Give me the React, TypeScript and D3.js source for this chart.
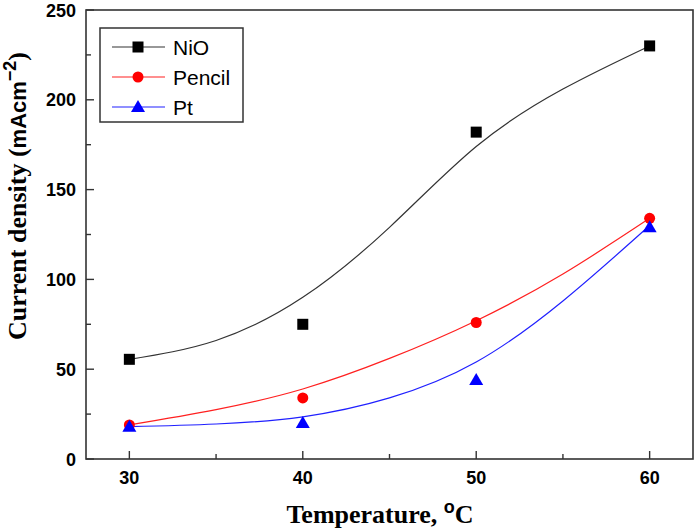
import * as d3 from 'd3';
import { useEffect, useRef } from 'react';

// measured points
const temps = [30, 40, 50, 60];
const nio = [55.5, 75, 182, 230];
const pencil = [19, 34, 76, 134];
const pt = [18, 20, 44, 129];

// fitted curves, sampled every 5 degrees
const fitTemps = [30, 35, 40, 45, 50, 55, 60];
const nioFit = [55.5, 66, 90, 129, 174, 206, 230];
const pencilFit = [19, 27.5, 39, 56, 77, 103, 134];
const ptFit = [18, 19.5, 23.5, 34, 54, 88, 130];

const xTicks = [30, 40, 50, 60];
const xMinor = [35, 45, 55];
const yTicks = [0, 50, 100, 150, 200, 250];
const yMinor = [25, 75, 125, 175, 225];

type Series = {
  name: string;
  color: string;
  lineColor: string;
  shape: 'square' | 'circle' | 'triangle';
  values: number[];
  fit: number[];
};

const series: Series[] = [
  { name: 'NiO', color: '#000', lineColor: '#333', shape: 'square', values: nio, fit: nioFit },
  { name: 'Pencil', color: '#ff0000', lineColor: '#ff2020', shape: 'circle', values: pencil, fit: pencilFit },
  { name: 'Pt', color: '#0000ff', lineColor: '#2020ff', shape: 'triangle', values: pt, fit: ptFit },
];

const width = 694;
const height = 529;
const left = 86;
const right = 693;
const top = 10;
const bottom = 459;

const sans = 'Liberation Sans, Arial, sans-serif';
const serif = 'Liberation Serif, Times New Roman, serif';

function drawMarker(g: d3.Selection<SVGGElement, unknown, null, undefined>, shape: string, color: string, cx: number, cy: number) {
  if (shape === 'square') {
    g.append('rect').attr('x', cx - 5.5).attr('y', cy - 5.5).attr('width', 11).attr('height', 11).attr('fill', color);
  } else if (shape === 'circle') {
    g.append('circle').attr('cx', cx).attr('cy', cy).attr('r', 5.5).attr('fill', color);
  } else {
    g.append('path')
      .attr('d', `M${cx},${cy - 7}L${cx + 7},${cy + 5}L${cx - 7},${cy + 5}Z`)
      .attr('fill', color);
  }
}

export default function App() {
  const ref = useRef<SVGSVGElement>(null);

  useEffect(() => {
    const svg = d3.select(ref.current);
    svg.selectAll('*').remove();

    const x = d3.scaleLinear().domain([27.5, 62.5]).range([left, right]);
    const y = d3.scaleLinear().domain([0, 250]).range([bottom, top]);

    // fit lines
    const line = d3
      .line<number>()
      .x((_, i) => x(fitTemps[i]))
      .y((d) => y(d))
      .curve(d3.curveNatural);

    series.forEach((s) => {
      svg
        .append('path')
        .attr('d', line(s.fit))
        .attr('fill', 'none')
        .attr('stroke', s.lineColor)
        .attr('stroke-width', 1.2);
    });

    // markers
    series.forEach((s) => {
      const g = svg.append('g');
      s.values.forEach((v, i) => drawMarker(g, s.shape, s.color, x(temps[i]), y(v)));
    });

    // frame
    svg
      .append('rect')
      .attr('x', left)
      .attr('y', top)
      .attr('width', right - left)
      .attr('height', bottom - top)
      .attr('fill', 'none')
      .attr('stroke', '#333')
      .attr('stroke-width', 1.6);

    // ticks point inward
    const ax = svg.append('g').attr('stroke', '#333').attr('stroke-width', 1.4);
    xTicks.forEach((t) => ax.append('line').attr('x1', x(t)).attr('x2', x(t)).attr('y1', bottom).attr('y2', bottom - 8));
    xMinor.forEach((t) => ax.append('line').attr('x1', x(t)).attr('x2', x(t)).attr('y1', bottom).attr('y2', bottom - 5));
    yTicks.forEach((t) => ax.append('line').attr('x1', left).attr('x2', left + 8).attr('y1', y(t)).attr('y2', y(t)));
    yMinor.forEach((t) => ax.append('line').attr('x1', left).attr('x2', left + 5).attr('y1', y(t)).attr('y2', y(t)));

    svg
      .append('g')
      .selectAll('text')
      .data(xTicks)
      .join('text')
      .attr('x', (d) => x(d))
      .attr('y', 484)
      .attr('text-anchor', 'middle')
      .attr('font-family', sans)
      .attr('font-weight', 'bold')
      .attr('font-size', 18)
      .text((d) => d);

    svg
      .append('g')
      .selectAll('text')
      .data(yTicks)
      .join('text')
      .attr('x', 76)
      .attr('y', (d) => y(d) + 6.5)
      .attr('text-anchor', 'end')
      .attr('font-family', sans)
      .attr('font-weight', 'bold')
      .attr('font-size', 18)
      .text((d) => d);

    // axis titles
    const xt = svg
      .append('text')
      .attr('x', 380)
      .attr('y', 523)
      .attr('text-anchor', 'middle')
      .attr('font-family', serif)
      .attr('font-weight', 'bold')
      .attr('font-size', 26);
    xt.append('tspan').text('Temperature, ');
    xt.append('tspan').attr('dy', -10).attr('font-size', 18).attr('font-family', sans).text('o');
    xt.append('tspan').attr('dy', 10).text('C');

    const yt = svg
      .append('text')
      .attr('transform', 'translate(26,196) rotate(-90)')
      .attr('text-anchor', 'middle')
      .attr('font-weight', 'bold')
      .attr('font-size', 26)
      .attr('font-family', serif);
    yt.append('tspan').text('Current density (');
    yt.append('tspan').attr('font-family', sans).attr('font-size', 22).text('mAcm');
    yt.append('tspan').attr('dy', -10).attr('font-family', sans).attr('font-size', 18).text('−2');
    yt.append('tspan').attr('dy', 10).text(')');

    // legend
    const lg = svg.append('g');
    lg.append('rect')
      .attr('x', 100)
      .attr('y', 28)
      .attr('width', 143)
      .attr('height', 94)
      .attr('fill', '#fff')
      .attr('stroke', '#333')
      .attr('stroke-width', 1.5);
    series.forEach((s, i) => {
      const cy = 47 + i * 30;
      lg.append('line')
        .attr('x1', 112)
        .attr('x2', 165)
        .attr('y1', cy)
        .attr('y2', cy)
        .attr('stroke', s.lineColor)
        .attr('stroke-width', 1.2);
      drawMarker(lg, s.shape, s.color, 138, cy);
      lg.append('text')
        .attr('x', 173)
        .attr('y', cy + 7.5)
        .attr('font-family', sans)
        .attr('font-size', 21)
        .text(s.name);
    });
  }, []);

  return (
    <svg
      ref={ref}
      width={width}
      height={height}
      style={{ position: 'absolute', left: 0, top: 0, background: '#fff' }}
    />
  );
}
